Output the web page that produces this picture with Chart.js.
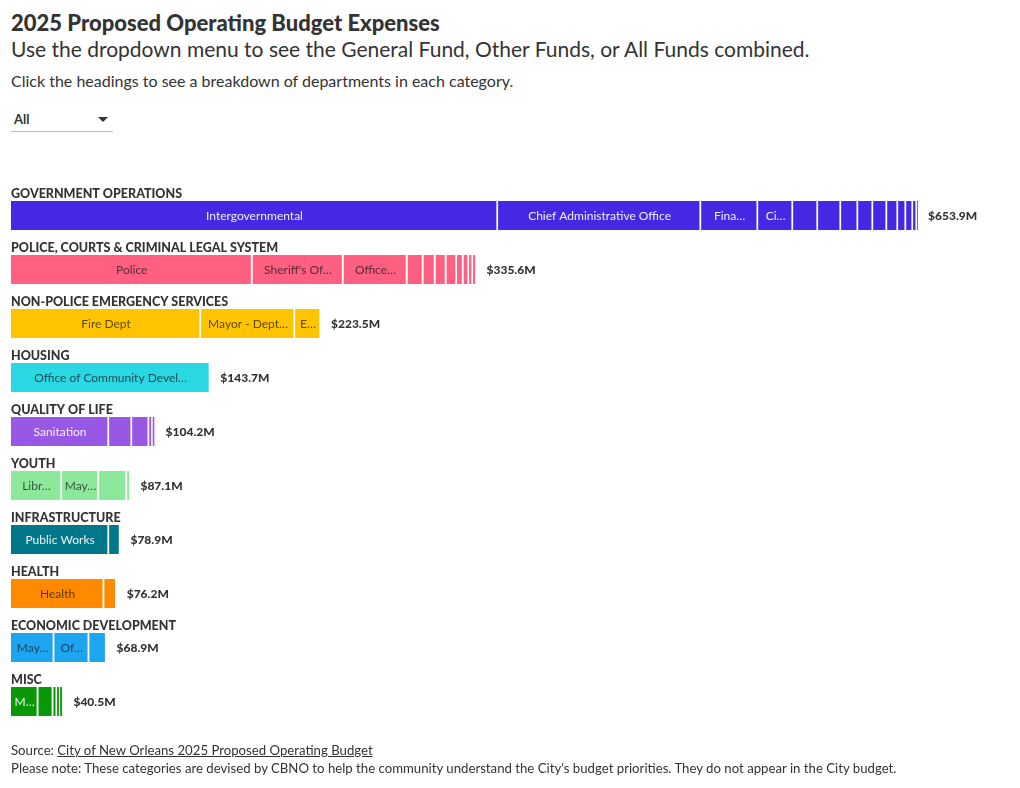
<!DOCTYPE html>
<html>
<head>
<meta charset="utf-8">
<script src="https://cdn.jsdelivr.net/npm/chart.js@4.4.1/dist/chart.umd.min.js"></script>
<style>
  html, body { margin: 0; padding: 0; background: #fff; }
  body { width: 1020px; height: 788px; position: relative; overflow: hidden; font-family: Lato, "Open Sans", sans-serif; color: #333; }
  .abs { position: absolute; left: 11px; white-space: nowrap; }
  #title { top: 10px; font-size: 22px; line-height: 26px; font-weight: 900; }
  #subtitle { top: 36px; font-size: 21px; line-height: 25px; }
  #desc { top: 71px; font-size: 16px; line-height: 19px; }
  #dropdown { top: 108px; width: 102px; height: 23px; border-bottom: 1px solid #bdbdbd; }
  #dropdown span { position: absolute; left: 3px; top: 3px; font-size: 13px; font-weight: 700; line-height: 16px; }
  #dropdown i { position: absolute; left: 87px; top: 9px; width: 0; height: 0; border-left: 5px solid transparent; border-right: 5px solid transparent; border-top: 5px solid #333; }
  #chartBox { position: absolute; left: 0; top: 170px; width: 1020px; height: 580px; }
  #footer { top: 741px; font-size: 13.2px; line-height: 18px; }
  #footer a { color: #333; text-decoration: underline; }
</style>
</head>
<body>
<div class="abs" id="title">2025 Proposed Operating Budget Expenses</div>
<div class="abs" id="subtitle">Use the dropdown menu to see the General Fund, Other Funds, or All Funds combined.</div>
<div class="abs" id="desc">Click the headings to see a breakdown of departments in each category.</div>
<div class="abs" id="dropdown"><span>All</span><i></i></div>
<div id="chartBox"><canvas id="chart"></canvas></div>
<div class="abs" id="footer">Source: <a>City of New Orleans 2025 Proposed Operating Budget</a><br>Please note: These categories are devised by CBNO to help the community understand the City's budget priorities. They do not appear in the City budget.</div>
<script>
// ---- Data ($ millions) ----
const categories = ["GOVERNMENT OPERATIONS", "POLICE, COURTS & CRIMINAL LEGAL SYSTEM", "NON-POLICE EMERGENCY SERVICES", "HOUSING", "QUALITY OF LIFE", "YOUTH", "INFRASTRUCTURE", "HEALTH", "ECONOMIC DEVELOPMENT", "MISC"];
const totalLabels = ["$653.9M", "$335.6M", "$223.5M", "$143.7M", "$104.2M", "$87.1M", "$78.9M", "$76.2M", "$68.9M", "$40.5M"];

const govOps = [351.1, 146.4, 41.1, 25.2, 18.0, 16.6, 12.3, 10.8, 10.1, 7.9, 5.8, 5.0, 2.9, 0.7];
const police = [174.1, 65.6, 46.1, 11.5, 8.7, 7.9, 7.6, 4.7, 4.0, 2.9, 2.5];
const nonPolice = [137.0, 67.8, 18.7];
const housing = [143.7];
const qualityOfLife = [70.7, 16.6, 12.3, 2.4, 2.2];
const youth = [36.8, 26.7, 20.2, 2.4];
const infrastructure = [70.7, 8.2];
const health = [67.2, 9.0];
const economicDev = [31.2, 25.2, 12.5];
const misc = [19.7, 10.8, 2.7, 2.2, 2.4];

const govOpsNames = ["Intergovernmental", "Chief Administrative Office", "Fina…", "Ci…"];
const policeNames = ["Police", "Sheriff's Of…", "Office…"];
const nonPoliceNames = ["Fire Dept", "Mayor - Dept…", "E…"];
const housingNames = ["Office of Community Devel…"];
const qualityOfLifeNames = ["Sanitation"];
const youthNames = ["Libr…", "May…"];
const infrastructureNames = ["Public Works"];
const healthNames = ["Health"];
const economicDevNames = ["May…", "Of…"];
const miscNames = ["M…"];

// ---- Styling ----
const segments = [govOps, police, nonPolice, housing, qualityOfLife, youth, infrastructure, health, economicDev, misc];
const segNames = [govOpsNames, policeNames, nonPoliceNames, housingNames, qualityOfLifeNames, youthNames, infrastructureNames, healthNames, economicDevNames, miscNames];
const colors = ["#4428e4", "#ff5f80", "#ffc400", "#2ad8e3", "#9957e6", "#8de89b", "#00788a", "#ff8a00", "#1ea5ef", "#089808"];
const labelColors = ["rgba(255,255,255,0.92)", "rgba(40,25,30,0.78)", "rgba(40,30,0,0.75)", "rgba(20,40,45,0.8)", "rgba(255,255,255,0.9)", "rgba(20,45,25,0.78)", "rgba(255,255,255,0.92)", "rgba(50,25,0,0.78)", "rgba(15,40,60,0.78)", "rgba(255,255,255,0.92)"];

const maxSegs = Math.max(...segments.map(s => s.length));
const datasets = [];
for (let j = 0; j < maxSegs; j++) {
  datasets.push({
    data: segments.map(s => (j < s.length ? s[j] : null)),
    backgroundColor: colors,
    borderColor: "rgba(255,255,255,0.55)",
    borderWidth: { left: 0, right: 2, top: 0, bottom: 0 },
    borderSkipped: false,
    barThickness: 29
  });
}

const font = "Lato, 'Open Sans', sans-serif";
const labelPlugin = {
  id: "labels",
  afterDatasetsDraw(chart) {
    const ctx = chart.ctx;
    const ys = chart.scales.y, xs = chart.scales.x;
    ctx.save();
    categories.forEach((cat, i) => {
      const yc = ys.getPixelForValue(i);
      // heading
      ctx.font = "900 12.5px " + font;
      ctx.fillStyle = "#333";
      ctx.textAlign = "left";
      ctx.textBaseline = "alphabetic";
      ctx.fillText(cat, chart.chartArea.left, yc - 17.5);
      // segment labels
      ctx.font = "12px " + font;
      ctx.textAlign = "center";
      ctx.textBaseline = "middle";
      ctx.fillStyle = labelColors[i];
      segNames[i].forEach((name, j) => {
        if (!name) return;
        const el = chart.getDatasetMeta(j).data[i];
        const p = el.getProps(["x", "base"], true);
        ctx.fillText(name, (p.x + p.base) / 2, yc + 0.5);
      });
      // total
      const sum = segments[i].reduce((a, b) => a + b, 0);
      ctx.font = "900 12px " + font;
      ctx.fillStyle = "#333";
      ctx.textAlign = "left";
      ctx.fillText(totalLabels[i], xs.getPixelForValue(sum) + 10, yc + 0.5);
    });
    ctx.restore();
  }
};

new Chart(document.getElementById("chart"), {
  type: "bar",
  data: { labels: categories, datasets },
  options: {
    indexAxis: "y",
    responsive: true,
    maintainAspectRatio: false,
    animation: false,
    layout: { padding: { top: 18.5, bottom: 21.5, left: 11, right: 38 } },
    plugins: { legend: { display: false }, tooltip: { enabled: false }, title: { display: false } },
    scales: {
      x: { stacked: true, min: 0, max: 700, display: false },
      y: { stacked: true, display: false }
    }
  },
  plugins: [labelPlugin]
});
</script>
</body>
</html>
